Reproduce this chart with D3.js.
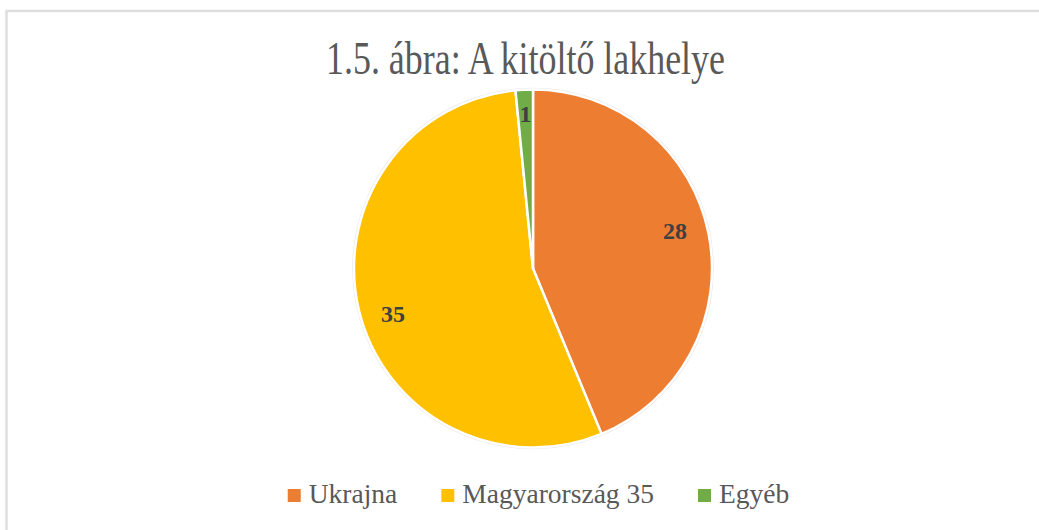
<!DOCTYPE html>
<html lang="hu">
<head>
    <meta charset="UTF-8">
    <title>1.5. ábra: A kitöltő lakhelye</title>
    <script src="https://d3js.org/d3.v7.min.js"></script>
    <style>
    html, body {
        margin: 0;
        background: #fff;
    }
    svg {
        display: block;
        font-family: "Liberation Serif", "Times New Roman", serif;
    }
    </style>
</head>
<body>
    <div id="chart"></div>

    <script>
    var title = "1.5. ábra: A kitöltő lakhelye";
    var categories = ["Ukrajna", "Magyarország 35", "Egyéb"];
    var values = [28, 35, 1];
    var colors = ["#ED7D31", "#FFC000", "#70AD47"];

    var width = 1039, height = 530;
    var cx = 533, cy = 268.5, radius = 179;

    var svg = d3.select("#chart").append("svg")
        .attr("width", width)
        .attr("height", height);

    // chart frame (only top and left edges visible in the crop)
    svg.append("rect")
        .attr("x", 6.5)
        .attr("y", 11)
        .attr("width", width + 20)
        .attr("height", height + 20)
        .attr("fill", "none")
        .attr("stroke", "#dedede")
        .attr("stroke-width", 2.5);

    svg.append("text")
        .attr("x", 525.5)
        .attr("y", 74)
        .attr("text-anchor", "middle")
        .attr("font-size", 46)
        .attr("fill", "#595959")
        .attr("textLength", 399)
        .attr("lengthAdjust", "spacingAndGlyphs")
        .text(title);

    var data = categories.map(function (c, i) {
        return { name: c, value: values[i], color: colors[i] };
    });

    var pie = d3.pie()
        .sort(null)
        .value(function (d) { return d.value; });

    var arcs = pie(data);
    var total = d3.sum(values);

    var arc = d3.arc().innerRadius(0).outerRadius(radius);

    var g = svg.append("g").attr("transform", "translate(" + cx + "," + cy + ")");

    // faint outline round the pie
    g.append("circle")
        .attr("r", radius + 1)
        .attr("fill", "none")
        .attr("stroke", "#e4e4e4")
        .attr("stroke-width", 1.5);

    g.selectAll("path")
        .data(arcs)
        .enter()
        .append("path")
        .attr("d", arc)
        .attr("fill", function (d) { return d.data.color; })
        .attr("stroke", "#fff")
        .attr("stroke-width", 2.5)
        .attr("stroke-linejoin", "round");

    // labels: big slices inside, tiny slice near the rim
    g.selectAll("text.lbl")
        .data(arcs)
        .enter()
        .append("text")
        .attr("class", "lbl")
        .attr("transform", function (d) {
            var small = d.data.value / total < 0.05;
            var a = (d.startAngle + d.endAngle) / 2 - (small ? 0 : 0.063);
            var r = small ? radius - 24 : 147;
            return "translate(" + (r * Math.sin(a)) + "," + (-r * Math.cos(a)) + ")";
        })
        .attr("dy", "0.35em")
        .attr("text-anchor", "middle")
        .attr("font-size", 24)
        .attr("font-weight", "bold")
        .attr("fill", "#404040")
        .text(function (d) { return d.data.value; });

    // legend
    var legend = svg.append("g");
    var x = 0;
    data.forEach(function (d) {
        var item = legend.append("g").attr("transform", "translate(" + x + ",0)");
        item.append("rect")
            .attr("x", 0)
            .attr("y", -14)
            .attr("width", 13)
            .attr("height", 13)
            .attr("fill", d.color);
        var t = item.append("text")
            .attr("x", 21)
            .attr("y", 0)
            .attr("font-size", 27.5)
            .attr("fill", "#595959")
            .text(d.name);
        x += 21 + t.node().getComputedTextLength() + 44;
    });
    var legendWidth = x - 44;
    legend.attr("transform", "translate(" + (538.5 - legendWidth / 2) + ",503)");
    </script>
</body>
</html>
